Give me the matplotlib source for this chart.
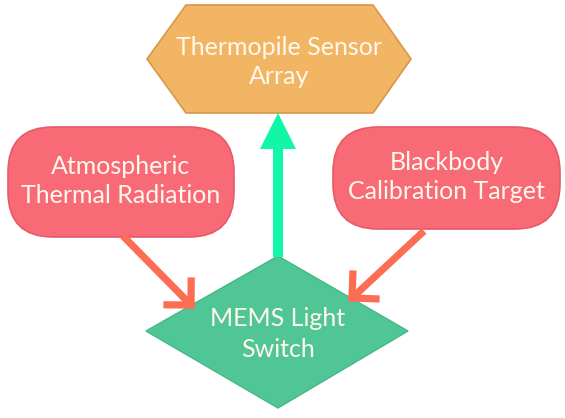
import numpy as np
import matplotlib.pyplot as plt
from matplotlib.patches import Polygon, FancyBboxPatch, FancyArrow

plt.rcParams['font.family'] = ['Lato', 'DejaVu Sans']

# node labels
sensor_label = "Thermopile Sensor\nArray"
atmo_label = "Atmospheric\nThermal Radiation"
blackbody_label = "Blackbody\nCalibration Target"
switch_label = "MEMS Light\nSwitch"

# edges: source -> target
edges = [("atmo", "switch"), ("blackbody", "switch"), ("switch", "sensor")]

fig = plt.figure(figsize=(5.65, 4.18), dpi=100)
ax = fig.add_axes([0, 0, 1, 1])
ax.set_xlim(0, 565)
ax.set_ylim(418, 0)
ax.axis('off')

txt_color = '#FFF8EC'
fs = 18

# hexagon (sensor)
hexagon = Polygon([(186, 5), (373, 5), (411, 59), (373, 113), (186, 113), (147, 59)],
                  closed=True, facecolor='#F2B563', edgecolor='#D8974A', lw=1.2, zorder=2)
ax.add_patch(hexagon)
ax.text(279, 62, sensor_label, ha='center', va='center', fontsize=fs,
        color=txt_color, linespacing=1.32, zorder=5)

# rounded boxes
for (x0, y0, x1, y1), lab in [((8, 127, 234, 237), atmo_label),
                              ((333, 127, 560, 229), blackbody_label)]:
    box = FancyBboxPatch((x0, y0), x1 - x0, y1 - y0,
                         boxstyle="round,pad=0,rounding_size=45",
                         facecolor='#F76A76', edgecolor='#E85A67', lw=1.2, zorder=2)
    ax.add_patch(box)
    ax.text((x0 + x1) / 2, (y0 + y1) / 2 - 1, lab, ha='center', va='center',
            fontsize=fs, color=txt_color, linespacing=1.3, zorder=5)

# diamond (switch)
diamond = Polygon([(278, 256), (408, 331), (278, 408), (146, 331)], closed=True,
                  facecolor='#50C596', edgecolor='#45B88A', lw=1.0, zorder=2)
ax.add_patch(diamond)
ax.text(278, 334, switch_label, ha='center', va='center', fontsize=fs,
        color=txt_color, linespacing=1.4, zorder=5)

# up arrow switch -> sensor
up = FancyArrow(278, 257, 0, -144, width=10, head_width=36, head_length=36,
                length_includes_head=True, facecolor='#12F7A7', edgecolor='none', zorder=3)
ax.add_patch(up)

# orange arrows with open heads
arrow_color = '#FC6D54'
for (sx, sy), (tx, ty) in [((123, 236), (191, 305)), ((424, 231), (352, 298))]:
    ax.plot([sx, tx], [sy, ty], color=arrow_color, lw=5.2, solid_capstyle='butt', zorder=3)
    d = np.array([sx - tx, sy - ty], dtype=float)
    d /= np.hypot(*d)
    for ang in (np.pi / 4, -np.pi / 4):
        c, s = np.cos(ang), np.sin(ang)
        r = np.array([c * d[0] - s * d[1], s * d[0] + c * d[1]]) * 24
        ax.plot([tx, tx + r[0]], [ty, ty + r[1]], color=arrow_color, lw=5.2,
                solid_capstyle='projecting', zorder=3)

fig.savefig('out.png', dpi=100)
